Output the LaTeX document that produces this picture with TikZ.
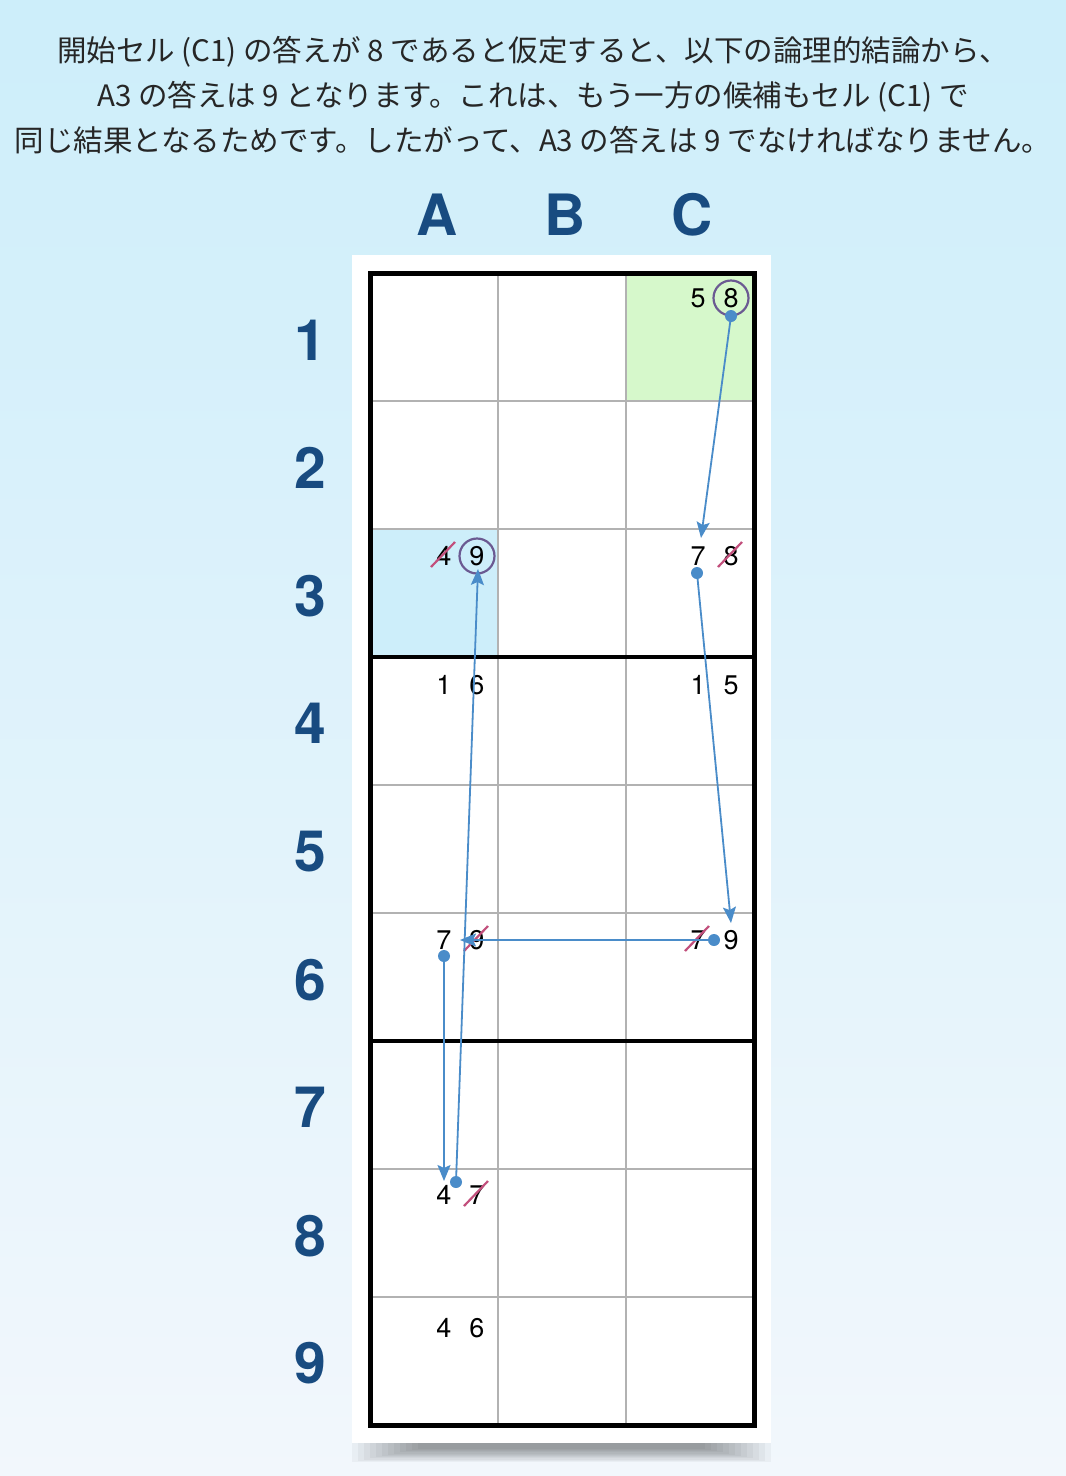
\documentclass[tikz,border=0pt]{standalone}
\usepackage{fontspec}
\usepackage{tikz}
\usepackage{xcolor}
\usetikzlibrary{arrows.meta}
\newfontfamily\jpfont{Noto Sans CJK JP}
\newfontfamily\digitfont{TeX Gyre Heros}
\definecolor{label-blue}{HTML}{184B80}
\definecolor{chain-blue}{HTML}{4A8CC9}
\definecolor{ring-purple}{HTML}{6B5A92}
\definecolor{strike-red}{HTML}{C24F7C}
\definecolor{start-green}{HTML}{D6F8CB}
\definecolor{target-blue}{HTML}{CDEEFA}
\definecolor{page-bottom}{HTML}{F2F7FC}
\tikzset{
    col-label/.style = {text=label-blue, font=\digitfont\bfseries\fontsize{57}{57}\selectfont},
    cand-digit/.style = {inner sep=0pt, font=\digitfont\fontsize{27}{27}\selectfont},
    cand-ring/.style = {draw=ring-purple, line width=2.2pt, circle, minimum size=35pt, inner sep=0pt},
    strike-line/.style = {draw=strike-red, line width=2.2pt},
    chain-arrow/.style = {draw=chain-blue, line width=1.8pt, -{Stealth[length=16pt,width=13pt,inset=3pt]}},
    chain-dot/.style = {fill=chain-blue, circle, minimum size=12pt, inner sep=0pt},
}

\begin{document}
\begin{tikzpicture}[x=1pt, y=-1pt]
\useasboundingbox (0,0) rectangle (1066,1476);
\shade[top color=target-blue, bottom color=page-bottom] (0,0) rectangle (1066,1476);

% explanation
\node[align=center, font=\jpfont\fontsize{29.5}{45}\selectfont, text=black!85] (note) at (533,95)
    {開始セル (C1) の答えが 8 であると仮定すると、以下の論理的結論から、\\
     A3 の答えは 9 となります。これは、もう一方の候補もセル (C1) で\\
     同じ結果となるためです。したがって、A3 の答えは 9 でなければなりません。};

% paper and soft shadow
\foreach \k in {0,...,11}
    \fill[black, opacity=0.035] (352+6*\k,1443) rectangle (771-6*\k,1462-1.2*\k);
\fill[white] (352,255) rectangle (771,1443);

% highlighted cells
\fill[start-green] (626,273) rectangle (754,401);
\fill[target-blue] (370,529) rectangle (498,657);

% grid
\foreach \x in {498,626}
    \draw[black!30, line width=1.5pt] (\x,273) -- (\x,1425);
\foreach \y in {401,529,785,913,1169,1297}
    \draw[black!30, line width=1.5pt] (370,\y) -- (754,\y);
\foreach \y in {657,1041}
    \draw[line width=3.5pt] (370,\y) -- (754,\y);
\draw[line width=5pt] (370,273) rectangle (754,1425);

% labels
\node[col-label] (colA) at (437,215) {A};
\node[col-label] (colB) at (565,215) {B};
\node[col-label] (colC) at (692,215) {C};
\foreach \r [count=\i] in {340,468,596,723,852,980,1107,1236,1363}
    \node[col-label] (row\i) at (310,\r) {\i};

% candidates
\node[cand-digit] (c1a) at (698,298) {5};
\node[cand-digit] (c1b) at (731,298) {8};
\node[cand-digit] (a3a) at (444,556) {4};
\node[cand-digit] (a3b) at (477,556) {9};
\node[cand-digit] (c3a) at (698,556) {7};
\node[cand-digit] (c3b) at (731,556) {8};
\node[cand-digit] (a4a) at (444,685) {1};
\node[cand-digit] (a4b) at (477,685) {6};
\node[cand-digit] (c4a) at (698,685) {1};
\node[cand-digit] (c4b) at (731,685) {5};
\node[cand-digit] (a6a) at (444,940) {7};
\node[cand-digit] (a6b) at (477,940) {9};
\node[cand-digit] (c6a) at (698,940) {7};
\node[cand-digit] (c6b) at (731,940) {9};
\node[cand-digit] (a8a) at (444,1195) {4};
\node[cand-digit] (a8b) at (477,1195) {7};
\node[cand-digit] (a9a) at (444,1328) {4};
\node[cand-digit] (a9b) at (477,1328) {6};

\node[cand-ring] (ring-c1) at (c1b) {};
\node[cand-ring] (ring-a3) at (a3b) {};

\foreach \n in {a3a,c3b,a6b,c6a,a8b}
    \draw[strike-line] ([shift={(-13,11)}]\n.center) -- ([shift={(11,-14)}]\n.center);

% chain
\node[chain-dot] (dot1) at (731,316) {};
\node[chain-dot] (dot2) at (697,573) {};
\node[chain-dot] (dot3) at (714,940) {};
\node[chain-dot] (dot4) at (444,956) {};
\node[chain-dot] (dot5) at (456,1182) {};
\coordinate (tip1) at (701,538);
\coordinate (tip2) at (731,923);
\coordinate (tip3) at (460,940);
\coordinate (tip4) at (444,1181);
\coordinate (tip5) at (478,569);
\draw[chain-arrow] (dot1.center) -- (tip1);
\draw[chain-arrow] (dot2.center) -- (tip2);
\draw[chain-arrow] (dot3.center) -- (tip3);
\draw[chain-arrow] (dot4.center) -- (tip4);
\draw[chain-arrow] (dot5.center) -- (tip5);
\end{tikzpicture}
\end{document}
